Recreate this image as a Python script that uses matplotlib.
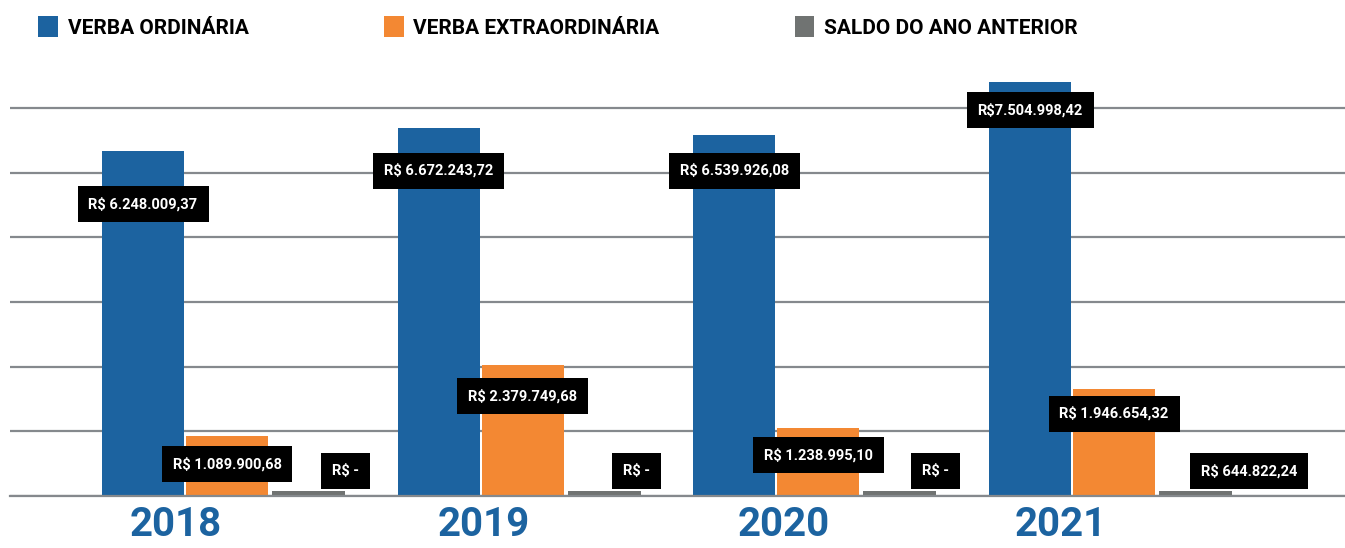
import matplotlib
matplotlib.use("Agg")
import matplotlib.pyplot as plt
import numpy as np

plt.rcParams['font.family'] = ['Roboto', 'DejaVu Sans']

# data
anos = ["2018", "2019", "2020", "2021"]
ordinaria = [6248009.37, 6672243.72, 6539926.08, 7504998.42]
extra = [1089900.68, 2379749.68, 1238995.10, 1946654.32]
saldo = [0, 0, 0, 644822.24]

lab_ord = ["R$ 6.248.009,37", "R$ 6.672.243,72", "R$ 6.539.926,08", "R$7.504.998,42"]
lab_extra = ["R$ 1.089.900,68", "R$ 2.379.749,68", "R$ 1.238.995,10", "R$ 1.946.654,32"]
lab_saldo = ["R$ -", "R$ -", "R$ -", "R$ 644.822,24"]

# label placement (layout only)
ord_lab_y = [5.29e6, 5.89e6, 5.89e6, 6.99e6]
extra_lab_y = [0.58e6, 1.81e6, 0.74e6, 1.49e6]
saldo_lab_dx = [0.40, 0.385, 0.395, 0.456]
ano_dx = [-0.172, -0.132, -0.118, -0.179]

blue = "#1C63A0"
orange = "#F38833"
gray = "#707372"

fig = plt.figure(figsize=(13.45, 5.48), dpi=100)
ax = fig.add_axes([10/1345, 52/548, 1335/1345, 430.6/548])

x = np.arange(len(anos))
w = 0.277
stub = 0.09e6  # saldo bars are drawn as equal small stubs in the source

ax.bar(x - 0.284, ordinaria, w, color=blue, zorder=2, label="VERBA ORDINÁRIA")
ax.bar(x, extra, w, color=orange, zorder=2, label="VERBA EXTRAORDINÁRIA")
ax.bar(x + 0.275, np.full(len(saldo), stub), 0.247, color=gray, zorder=2,
       label="SALDO DO ANO ANTERIOR")

box = dict(boxstyle="square,pad=0.75", fc="black", ec="none")
for i in range(len(anos)):
    ax.text(x[i] - 0.284, ord_lab_y[i], lab_ord[i], color="white", fontsize=10.5,
            fontweight="bold", ha="center", va="center", bbox=box, zorder=5)
    ax.text(x[i], extra_lab_y[i], lab_extra[i], color="white", fontsize=10.5,
            fontweight="bold", ha="center", va="center", bbox=box, zorder=5)
    ax.text(x[i] + saldo_lab_dx[i], 0.45e6, lab_saldo[i], color="white", fontsize=10.5,
            fontweight="bold", ha="center", va="center", bbox=box, zorder=5)

ax.set_xlim(-0.734, 3.781)
ax.set_ylim(0, 7.8e6)
ax.set_yticks(np.arange(7) * 1.171e6)
ax.yaxis.grid(True, color="#85898d", lw=1.6)
ax.set_axisbelow(True)
ax.tick_params(axis="y", left=False, labelleft=False)
ax.set_xticks(x + np.array(ano_dx))
ax.set_xticklabels(anos, fontsize=29, fontweight="bold", color=blue)
ax.tick_params(axis="x", length=0, pad=7)
for s in ["top", "right", "left"]:
    ax.spines[s].set_visible(False)
ax.spines["bottom"].set_color("#85898d")
ax.spines["bottom"].set_linewidth(1.6)

fig.legend(loc="upper left", bbox_to_anchor=(30/1345, 1 - 8/548), ncol=3,
           frameon=False, prop={"weight": "bold", "size": 15},
           handlelength=0.95, handleheight=1.15, handletextpad=0.45,
           columnspacing=6.5, borderaxespad=0)

fig.savefig("out.png", dpi=100)
